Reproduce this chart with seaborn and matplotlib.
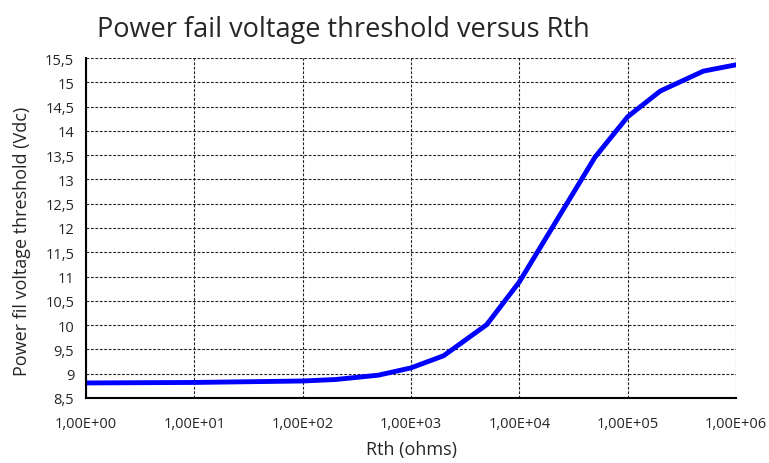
import numpy as np
import pandas as pd
import matplotlib.pyplot as plt
import seaborn as sns

# Values
rth_ohms = [1, 10, 100, 200, 500, 1000, 2000, 5000, 10000, 50000, 100000, 200000, 500000, 1000000]
threshold_vdc = [8.81, 8.82, 8.85, 8.88, 8.97, 9.12, 9.37, 10.01, 10.89, 13.46, 14.29, 14.82, 15.23, 15.36]

x_ticks = [1, 10, 100, 1000, 10000, 100000, 1000000]
x_tick_labels = ["1,00E+00", "1,00E+01", "1,00E+02", "1,00E+03", "1,00E+04", "1,00E+05", "1,00E+06"]
y_ticks = np.arange(8.5, 15.51, 0.5)

df = pd.DataFrame({"Rth": rth_ohms, "Vth": threshold_vdc})

sns.set_style("white")
plt.rcParams['font.family'] = ['Open Sans', 'DejaVu Sans']

fig = plt.figure(figsize=(7.69, 4.64), dpi=100)
ax = fig.add_axes([86 / 769, 1 - 399 / 464, 650 / 769, 340 / 464])

sns.lineplot(data=df, x="Rth", y="Vth", ax=ax, color="#0000ff", linewidth=3.5)

ax.set_xscale("log")
ax.set_xlim(1, 1e6)
ax.set_ylim(8.5, 15.5)
ax.set_xticks(x_ticks)
ax.set_xticklabels(x_tick_labels)
ax.minorticks_off()
ax.set_yticks(y_ticks)
ax.set_yticklabels([f"{v:g}".replace(".", ",") for v in y_ticks])
ax.tick_params(axis="both", labelsize=10.5, length=5, width=1, color="black", direction="out")
ax.tick_params(axis="x", pad=8)

ax.grid(True, linestyle=(0, (2.5, 1.5)), color="#222222", linewidth=0.8)
for side in ["top", "right"]:
    ax.spines[side].set_visible(False)
for side in ["left", "bottom"]:
    ax.spines[side].set_color("black")
    ax.spines[side].set_linewidth(1.5)

ax.set_xlabel("Rth (ohms)", fontsize=13)
ax.set_ylabel("Power fil voltage threshold (Vdc)", fontsize=13)
ax.xaxis.set_label_coords(0.5, -(450 - 399) / 340, transform=ax.transAxes)
ax.xaxis.label.set_va("center")
ax.yaxis.set_label_coords(-(86 - 22) / 650, (399 - 241) / 340, transform=ax.transAxes)
ax.yaxis.label.set_va("center")

fig.text(97 / 769, 1 - 30 / 464, "Power fail voltage threshold versus Rth", fontsize=19.5,
         ha="left", va="center")

fig.savefig("out.png", dpi=100)
